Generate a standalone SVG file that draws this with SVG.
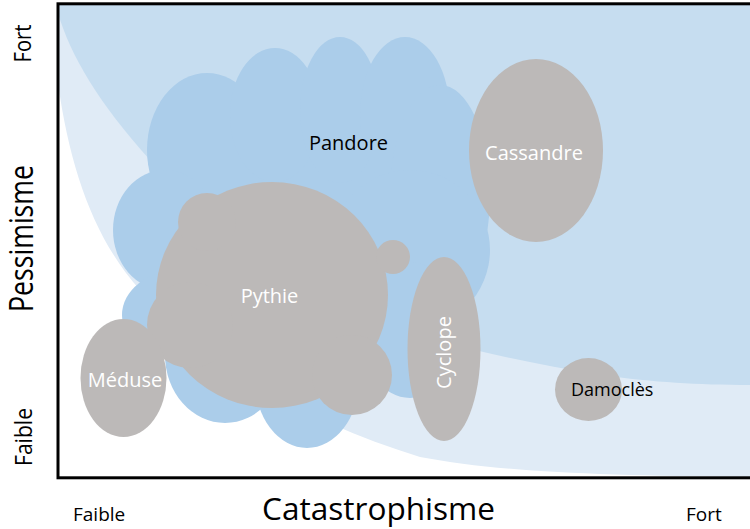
<svg xmlns="http://www.w3.org/2000/svg" width="750" height="529" viewBox="0 0 750 529">
<style>
.lbl{font-family:"Open Sans","Noto Sans",sans-serif;}
.node{fill:#bcb9b8;}
.cloud{fill:#abcdea;}
.w{fill:#ffffff;}
.k{fill:#000000;}
</style>
<rect x="0" y="0" width="750" height="529" fill="#ffffff"/>
<g id="zones">
<path d="M58,4 L58,83 C70,170 95,240 140,290 C200,360 300,420 420,457 C500,472 600,476 760,477 L760,4 Z" fill="#e0ebf6"/>
<path d="M58,4 L58,13 C70,55 100,105 150,160 L400,330 C450,345 520,362 600,375 C660,383 700,385 760,385 L760,4 Z" fill="#c6ddf0"/>
</g>
<g id="pandore">
<g class="cloud">
<ellipse cx="310" cy="250" rx="155" ry="150"/>
<ellipse cx="207" cy="150" rx="60" ry="77"/>
<ellipse cx="275" cy="115" rx="45" ry="67"/>
<ellipse cx="340" cy="110" rx="40" ry="73"/>
<ellipse cx="405" cy="115" rx="45" ry="78"/>
<ellipse cx="440" cy="195" rx="50" ry="110"/>
<ellipse cx="410" cy="250" rx="80" ry="80"/>
<ellipse cx="165" cy="230" rx="52" ry="60"/>
<ellipse cx="180" cy="315" rx="58" ry="45"/>
<ellipse cx="225" cy="355" rx="60" ry="68"/>
<ellipse cx="307" cy="380" rx="52" ry="68"/>
<ellipse cx="410" cy="330" rx="50" ry="68"/>
</g>
<text class="lbl k" x="348.5" y="150" font-size="20" text-anchor="middle">Pandore</text>
</g>
<g id="pythie">
<g class="node">
<ellipse cx="272" cy="295" rx="116" ry="113"/>
<circle cx="207" cy="222" r="29"/>
<circle cx="393" cy="257" r="17"/>
<circle cx="190" cy="325" r="43"/>
<circle cx="352" cy="375" r="40"/>
</g>
<text class="lbl w" x="269.5" y="303" font-size="20" text-anchor="middle">Pythie</text>
</g>
<g id="meduse">
<ellipse class="node" cx="123.5" cy="378" rx="43" ry="59"/>
<text class="lbl w" x="125" y="387" font-size="20" text-anchor="middle">Méduse</text>
</g>
<g id="cyclope">
<ellipse class="node" cx="444" cy="349" rx="36.5" ry="92"/>
<text class="lbl w" transform="translate(451,352.5) rotate(-90)" x="0" y="0" font-size="20" text-anchor="middle">Cyclope</text>
</g>
<g id="cassandre">
<ellipse class="node" cx="536" cy="150.5" rx="67" ry="91.5"/>
<text class="lbl w" x="534" y="160" font-size="20" text-anchor="middle">Cassandre</text>
</g>
<g id="damocles">
<ellipse class="node" cx="588.5" cy="389.5" rx="33.5" ry="31.5"/>
<text class="lbl k" x="571" y="396" font-size="18">Damoclès</text>
</g>
<g id="connectors"></g>
<rect x="58" y="3.8" width="720" height="474" fill="none" stroke="#000000" stroke-width="3"/>
<g id="axes">
<text class="lbl k" transform="translate(31,43.5) rotate(-90)" x="-19" y="0" font-size="23" textLength="38" lengthAdjust="spacingAndGlyphs">Fort</text>
<text class="lbl k" transform="translate(33,238.5) rotate(-90)" x="-73.5" y="0" font-size="32" textLength="147" lengthAdjust="spacingAndGlyphs">Pessimisme</text>
<text class="lbl k" transform="translate(32,437) rotate(-90)" x="-29" y="0" font-size="23" textLength="58" lengthAdjust="spacingAndGlyphs">Faible</text>
<text class="lbl k" x="73" y="521" font-size="19">Faible</text>
<text class="lbl k" x="262" y="520" font-size="31" textLength="233" lengthAdjust="spacingAndGlyphs">Catastrophisme</text>
<text class="lbl k" x="686" y="521" font-size="19">Fort</text>
</g>
</svg>
